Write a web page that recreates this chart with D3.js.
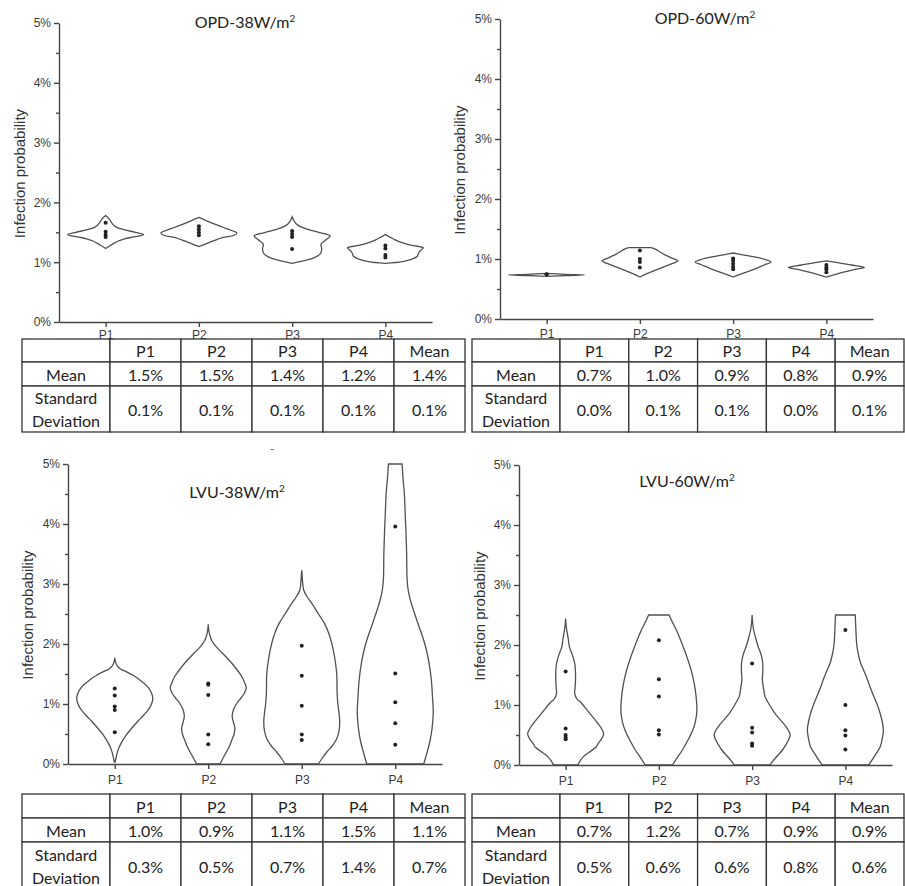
<!DOCTYPE html>
<html>
<head>
<meta charset="utf-8">
<script src="https://cdn.jsdelivr.net/npm/d3@7"></script>
<style>
    body { margin: 0; background: #fff; }
    svg { display: block; }
</style>
</head>
<body>
<div id="chart"></div>
<script>
const width = 905;
const height = 886;

// ---- data ----
const categories = ["P1", "P2", "P3", "P4"];
const yTicks = [0, 1, 2, 3, 4, 5];
const yMinor = [0.5, 1.5, 2.5, 3.5, 4.5];
const titles = ["OPD-38W/m", "OPD-60W/m", "LVU-38W/m", "LVU-60W/m"];

// dots (infection probability, %)
const pointsOPD38 = [[1.66, 1.51, 1.46, 1.42], [1.6, 1.55, 1.5, 1.45], [1.52, 1.47, 1.42, 1.22], [1.28, 1.23, 1.12, 1.08]];
const pointsOPD60 = [[0.745, 0.74], [1.14, 1.0, 0.95, 0.86], [1.01, 0.97, 0.92, 0.87, 0.83], [0.9, 0.86, 0.83, 0.78]];
const pointsLVU38 = [[1.26, 1.14, 0.96, 0.9, 0.53], [1.34, 1.32, 1.15, 0.49, 0.33], [1.97, 1.47, 0.97, 0.49, 0.4], [3.96, 1.51, 1.03, 0.68, 0.32]];
const pointsLVU60 = [[1.56, 0.61, 0.5, 0.46, 0.43], [2.08, 1.43, 1.14, 0.58, 0.51], [1.69, 0.62, 0.54, 0.36, 0.32], [2.25, 1.0, 0.58, 0.49, 0.26]];

// violin outlines: [value %, relative density 0..1]
const outlineOPD38 = [
    [[1.78, 0], [1.72, 0.1], [1.65, 0.17], [1.59, 0.27], [1.54, 0.5], [1.5, 0.78], [1.46, 1], [1.42, 0.7], [1.39, 0.5], [1.35, 0.32], [1.31, 0.2], [1.27, 0.1], [1.23, 0]],
    [[1.75, 0], [1.7, 0.18], [1.64, 0.4], [1.58, 0.65], [1.53, 0.86], [1.49, 1], [1.45, 0.93], [1.41, 0.62], [1.36, 0.4], [1.31, 0.2], [1.26, 0]],
    [[1.76, 0], [1.68, 0.06], [1.62, 0.15], [1.56, 0.35], [1.5, 0.7], [1.44, 1], [1.38, 0.9], [1.3, 0.76], [1.22, 0.78], [1.14, 0.74], [1.08, 0.6], [1.03, 0.35], [0.98, 0]],
    [[1.46, 0], [1.42, 0.12], [1.37, 0.27], [1.32, 0.48], [1.28, 0.7], [1.24, 1], [1.2, 0.93], [1.15, 0.87], [1.1, 0.84], [1.05, 0.7], [1.01, 0.45], [0.98, 0]],
];
const outlineOPD60 = [
    [[0.76, 0], [0.745, 0.5], [0.735, 1], [0.725, 0.5], [0.71, 0]],
    [[1.19, 0.3], [1.16, 0.42], [1.12, 0.52], [1.07, 0.66], [1.02, 0.83], [0.97, 1], [0.93, 0.88], [0.88, 0.68], [0.83, 0.48], [0.78, 0.28], [0.74, 0.13], [0.7, 0]],
    [[1.1, 0], [1.07, 0.25], [1.03, 0.6], [0.99, 0.85], [0.95, 1], [0.9, 0.82], [0.84, 0.6], [0.78, 0.35], [0.74, 0.16], [0.7, 0]],
    [[0.97, 0], [0.94, 0.3], [0.9, 0.65], [0.86, 1], [0.82, 0.7], [0.78, 0.45], [0.74, 0.22], [0.7, 0]],
];
const outlineLVU38 = [
    [[1.77, 0], [1.7, 0.02], [1.64, 0.06], [1.58, 0.16], [1.54, 0.3], [1.47, 0.5], [1.4, 0.66], [1.33, 0.8], [1.26, 0.9], [1.18, 0.97], [1.1, 1], [1.02, 0.98], [0.92, 0.9], [0.82, 0.77], [0.72, 0.62], [0.6, 0.45], [0.48, 0.3], [0.36, 0.18], [0.24, 0.09], [0.12, 0.04], [0.03, 0.01]],
    [[2.33, 0], [2.25, 0.01], [2.15, 0.04], [2.05, 0.1], [1.96, 0.2], [1.85, 0.37], [1.75, 0.52], [1.65, 0.66], [1.55, 0.78], [1.45, 0.89], [1.35, 0.96], [1.27, 1], [1.18, 0.95], [1.1, 0.86], [1.0, 0.74], [0.9, 0.66], [0.8, 0.63], [0.7, 0.66], [0.6, 0.7], [0.5, 0.68], [0.4, 0.62], [0.3, 0.56], [0.2, 0.48], [0.1, 0.39], [0, 0.31]],
    [[3.23, 0], [3.15, 0.01], [3.05, 0.02], [2.9, 0.05], [2.8, 0.13], [2.68, 0.26], [2.5, 0.44], [2.34, 0.6], [2.18, 0.71], [2.01, 0.79], [1.8, 0.86], [1.51, 0.92], [1.2, 0.93], [1.0, 0.95], [0.85, 0.98], [0.7, 1], [0.55, 0.98], [0.42, 0.92], [0.3, 0.8], [0.2, 0.66], [0.1, 0.54], [0, 0.44]],
    [[5.0, 0.18], [4.8, 0.2], [4.5, 0.24], [4.2, 0.26], [3.9, 0.28], [3.5, 0.3], [3.1, 0.31], [2.9, 0.34], [2.75, 0.39], [2.6, 0.46], [2.45, 0.54], [2.3, 0.62], [2.12, 0.72], [1.9, 0.82], [1.68, 0.89], [1.4, 0.95], [1.12, 0.98], [0.84, 1], [0.6, 0.97], [0.4, 0.92], [0.2, 0.84], [0, 0.75]],
];
const outlineLVU60 = [
    [[2.44, 0], [2.35, 0.01], [2.25, 0.03], [2.1, 0.07], [1.97, 0.1], [1.83, 0.18], [1.69, 0.24], [1.55, 0.26], [1.42, 0.26], [1.3, 0.25], [1.19, 0.24], [1.1, 0.3], [1.03, 0.42], [0.92, 0.56], [0.81, 0.7], [0.7, 0.84], [0.6, 0.95], [0.52, 1], [0.44, 0.95], [0.36, 0.86], [0.3, 0.8], [0.22, 0.64], [0.14, 0.47], [0.07, 0.38], [0, 0.32]],
    [[2.5, 0.27], [2.4, 0.34], [2.25, 0.46], [2.1, 0.56], [1.97, 0.64], [1.78, 0.75], [1.58, 0.85], [1.36, 0.93], [1.14, 0.98], [0.9, 1], [0.72, 0.96], [0.58, 0.89], [0.42, 0.77], [0.25, 0.62], [0.12, 0.48], [0, 0.36]],
    [[2.5, 0], [2.4, 0.01], [2.25, 0.04], [2.1, 0.1], [1.97, 0.16], [1.83, 0.24], [1.69, 0.28], [1.55, 0.28], [1.42, 0.27], [1.28, 0.3], [1.14, 0.34], [1.0, 0.46], [0.86, 0.6], [0.74, 0.76], [0.64, 0.89], [0.56, 0.97], [0.5, 1], [0.42, 0.96], [0.33, 0.88], [0.25, 0.8], [0.15, 0.66], [0.07, 0.55], [0, 0.47]],
    [[2.5, 0.26], [2.35, 0.27], [2.2, 0.28], [2.0, 0.3], [1.85, 0.34], [1.7, 0.4], [1.58, 0.48], [1.44, 0.57], [1.3, 0.65], [1.14, 0.75], [0.95, 0.87], [0.75, 0.96], [0.58, 1], [0.44, 0.97], [0.31, 0.92], [0.18, 0.8], [0.08, 0.7], [0, 0.61]],
];

// summary tables
const tableCols = ["P1", "P2", "P3", "P4", "Mean"];
const meanOPD38 = ["1.5%", "1.5%", "1.4%", "1.2%", "1.4%"];
const sdOPD38 = ["0.1%", "0.1%", "0.1%", "0.1%", "0.1%"];
const meanOPD60 = ["0.7%", "1.0%", "0.9%", "0.8%", "0.9%"];
const sdOPD60 = ["0.0%", "0.1%", "0.1%", "0.0%", "0.1%"];
const meanLVU38 = ["1.0%", "0.9%", "1.1%", "1.5%", "1.1%"];
const sdLVU38 = ["0.3%", "0.5%", "0.7%", "1.4%", "0.7%"];
const meanLVU60 = ["0.7%", "1.2%", "0.7%", "0.9%", "0.9%"];
const sdLVU60 = ["0.5%", "0.6%", "0.6%", "0.8%", "0.6%"];

// ---- layout ----
const layouts = [
    { x0: 59, x1: 432, top: 23, bottom: 322, titleX: 245, titleY: 28, labelX: 20, tableX: 22, tableY: 339, rows: [23, 24, 46], tableRight: 465, labelPad: 3 },
    { x0: 500, x1: 873, top: 19, bottom: 319, titleX: 705, titleY: 24, labelX: 460, tableX: 472, tableY: 339, rows: [23, 24, 46], tableRight: 904, labelPad: 5 },
    { x0: 68, x1: 442, top: 464, bottom: 764, titleX: 237, titleY: 498, labelX: 28, tableX: 22, tableY: 794, rows: [24, 24, 48], tableRight: 465, labelPad: 6 },
    { x0: 519, x1: 892, top: 465, bottom: 765, titleX: 687, titleY: 487, labelX: 480, tableX: 472, tableY: 794, rows: [24, 24, 48], tableRight: 904, labelPad: 6 },
];

const panels = [
    { title: titles[0], points: pointsOPD38, outlines: outlineOPD38, mean: meanOPD38, sd: sdOPD38 },
    { title: titles[1], points: pointsOPD60, outlines: outlineOPD60, mean: meanOPD60, sd: sdOPD60 },
    { title: titles[2], points: pointsLVU38, outlines: outlineLVU38, mean: meanLVU38, sd: sdLVU38 },
    { title: titles[3], points: pointsLVU60, outlines: outlineLVU60, mean: meanLVU60, sd: sdLVU60 },
];

const axisColor = "#454545";
const tickFont = "'Liberation Sans', Arial, sans-serif";
const tableFont = "Lato, 'Open Sans', sans-serif";

const svg = d3
    .select("#chart")
    .append("svg")
    .attr("width", width)
    .attr("height", height);

// violin half-width in px for density 1
const halfWidth = d3.scaleLinear().domain([0, 1]).range([0, 38]);

panels.forEach((p, i) => {
    const L = layouts[i];
    const g = svg.append("g");

    const y = d3.scaleLinear().domain([0, 5]).range([L.bottom, L.top]);
    const x = d3.scalePoint().domain(categories).range([L.x0, L.x1]).padding(0.5);

    // violins
    p.outlines.forEach((outline, k) => {
        const cx = x(categories[k]);
        const area = d3
            .area()
            .y((d) => y(d[0]))
            .x0((d) => cx - halfWidth(d[1]))
            .x1((d) => cx + halfWidth(d[1]))
            .curve(d3.curveCatmullRom.alpha(0.5));
        g.append("path")
            .attr("d", area(outline))
            .attr("fill", "#fff")
            .attr("stroke", "#505050")
            .attr("stroke-width", 1.3);
    });

    // dots
    p.points.forEach((vals, k) => {
        g.selectAll(null)
            .data(vals)
            .join("circle")
            .attr("cx", x(categories[k]))
            .attr("cy", (d) => y(d))
            .attr("r", 2)
            .attr("fill", "#222");
    });

    // y axis, major + minor ticks
    g.append("g")
        .attr("transform", `translate(${L.x0},0)`)
        .call(d3.axisLeft(y).tickValues(yTicks).tickFormat((d) => d + "%").tickSize(5).tickSizeOuter(0).tickPadding(3));
    g.append("g")
        .attr("transform", `translate(${L.x0},0)`)
        .call(d3.axisLeft(y).tickValues(yMinor).tickFormat("").tickSize(3).tickSizeOuter(0))
        .call((a) => a.select(".domain").remove());

    // x axis
    g.append("g")
        .attr("transform", `translate(0,${L.bottom})`)
        .call(d3.axisBottom(x).tickSize(5).tickSizeOuter(0).tickPadding(L.labelPad));

    g.selectAll(".domain, .tick line").attr("stroke", axisColor).attr("stroke-width", 1.4);
    g.selectAll(".tick text")
        .attr("font-family", tickFont)
        .attr("font-size", 12)
        .attr("fill", "#3a3a3a");

    // axis label
    g.append("text")
        .attr("transform", `translate(${L.labelX},${(L.top + L.bottom) / 2 + 1}) rotate(-90)`)
        .attr("text-anchor", "middle")
        .attr("dy", "0.35em")
        .attr("font-family", tickFont)
        .attr("font-size", 15)
        .attr("fill", "#333")
        .text("Infection probability");

    // title with superscript
    const t = g
        .append("text")
        .attr("x", L.titleX)
        .attr("y", L.titleY)
        .attr("text-anchor", "middle")
        .attr("font-family", tableFont)
        .attr("font-size", 16)
        .attr("fill", "#222");
    t.append("tspan").text(p.title);
    t.append("tspan").attr("font-size", 10).attr("dy", -6).text("2");

    // table
    const colX = [L.tableX, L.tableX + 88];
    const colW = (L.tableRight - colX[1]) / tableCols.length;
    for (let c = 1; c <= tableCols.length; c++) colX.push(colX[1] + c * colW);
    const rowY = [L.tableY];
    L.rows.forEach((h) => rowY.push(rowY[rowY.length - 1] + h));

    const cells = [
        ["", ...tableCols],
        ["Mean", ...p.mean],
        [["Standard", "Deviation"], ...p.sd],
    ];

    const tg = svg.append("g");
    cells.forEach((row, r) => {
        row.forEach((val, c) => {
            const cx0 = colX[c];
            const cw = colX[c + 1] - colX[c];
            const cy0 = rowY[r];
            const ch = rowY[r + 1] - rowY[r];
            tg.append("rect")
                .attr("x", cx0)
                .attr("y", cy0)
                .attr("width", cw)
                .attr("height", ch)
                .attr("fill", "#fff")
                .attr("stroke", "#333")
                .attr("stroke-width", 1.3);
            const lines = Array.isArray(val) ? val : [val];
            const txt = tg
                .append("text")
                .attr("text-anchor", "middle")
                .attr("font-family", tableFont)
                .attr("font-size", 16)
                .attr("fill", "#222");
            lines.forEach((ln, li) => {
                txt.append("tspan")
                    .attr("x", cx0 + cw / 2)
                    .attr("y", cy0 + ch / 2 + 1 + (li - (lines.length - 1) / 2) * 23)
                    .attr("dy", "0.35em")
                    .text(ln);
            });
        });
    });
});

// stray dash between panels
svg.append("text")
    .attr("x", 272)
    .attr("y", 452)
    .attr("text-anchor", "middle")
    .attr("font-family", tickFont)
    .attr("font-size", 11)
    .attr("fill", "#555")
    .text("-");
</script>
</body>
</html>
